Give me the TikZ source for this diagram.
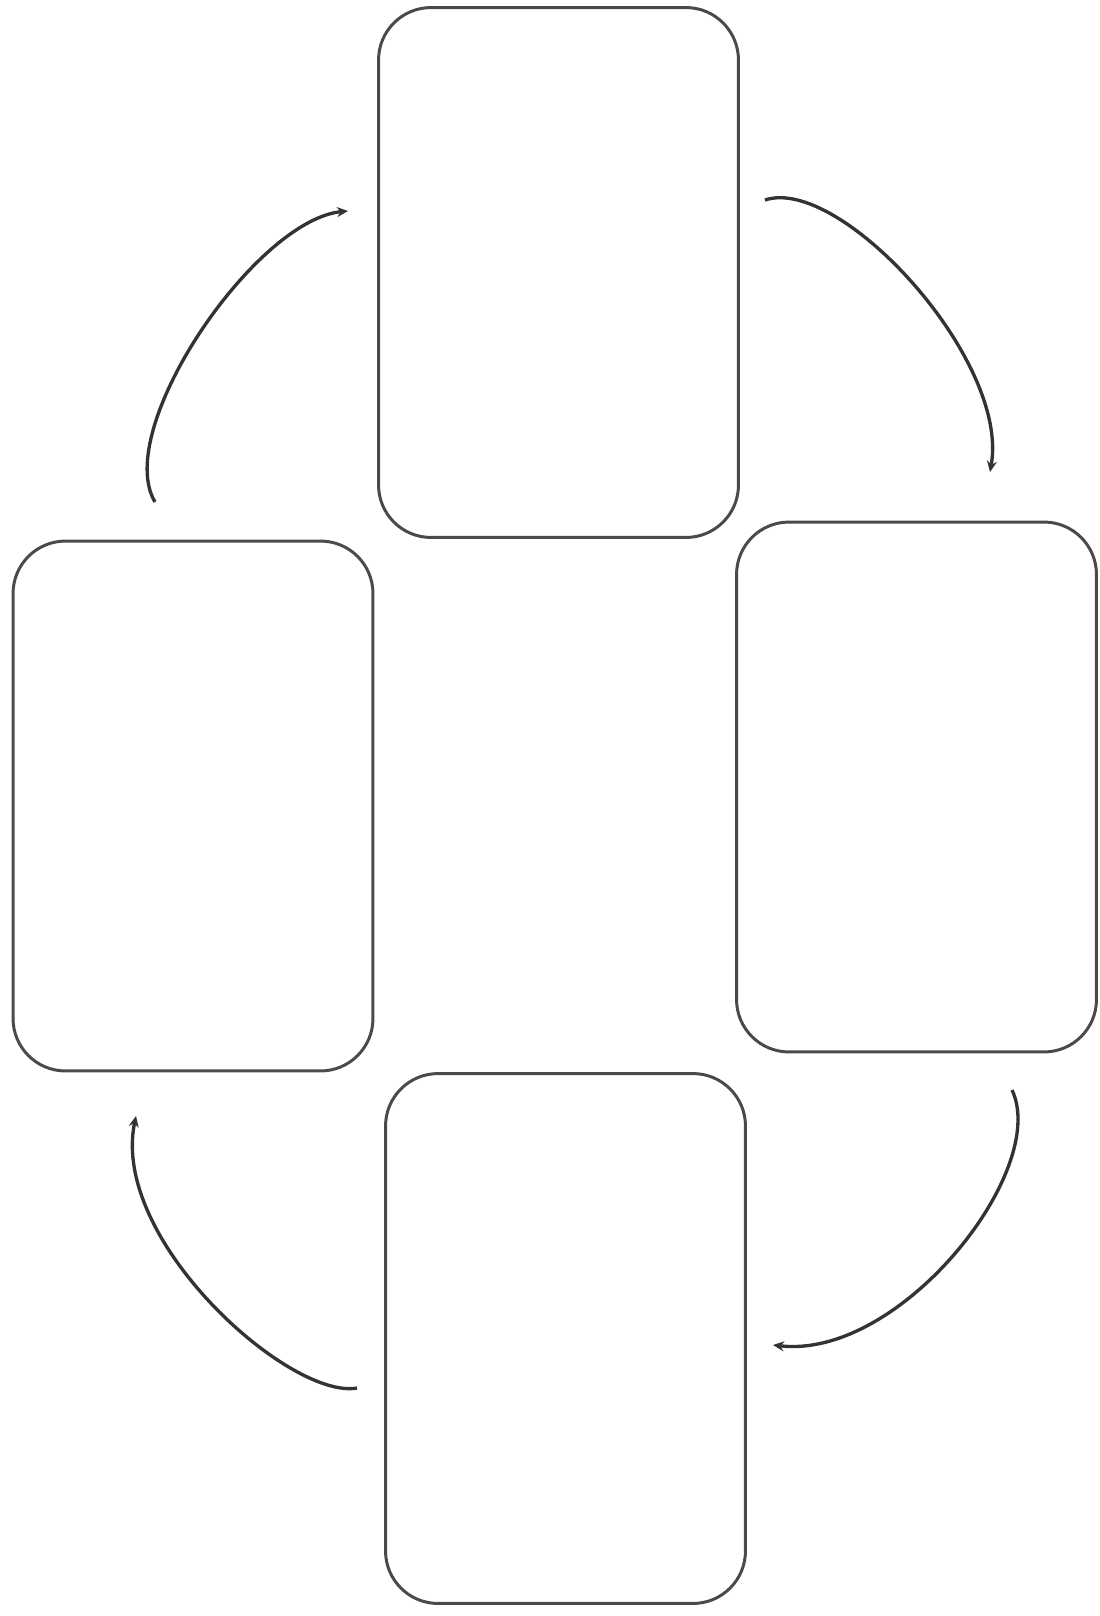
\documentclass[tikz,border=0pt]{standalone}
\usepackage{xcolor}
\usepackage{tikz}
\usetikzlibrary{arrows.meta}
\definecolor{kutuGri}{HTML}{4A4A4A}
\definecolor{okGri}{HTML}{333333}

\begin{document}
\begin{tikzpicture}[x=0.02cm,y=-0.02cm,
  kutu/.style={draw=kutuGri,line width=1.7pt,rounded corners=1.05cm,
               minimum width=7.2cm,minimum height=10.6cm,inner sep=0pt},
  ok/.style={-{Stealth[length=2.2mm,width=2mm]},line width=1.9pt,okGri}]
\useasboundingbox (0,0) rectangle (1099,1616);
\node[kutu] (ust) at (558.5,272.5) {};
\node[kutu] (sol) at (193,806) {};
\node[kutu] (sag) at (916.5,787) {};
\node[kutu] (alt) at (565.5,1338.5) {};
% ok uclari
\coordinate (a1) at (155,502);  \coordinate (b1) at (348,211);
\coordinate (a2) at (765,200);  \coordinate (b2) at (990,472);
\coordinate (a3) at (1012,1090); \coordinate (b3) at (773,1345);
\coordinate (a4) at (357,1388); \coordinate (b4) at (136,1116);
\draw[ok] (a1) .. controls (112,430) and (255,220) .. (b1);
\draw[ok] (a2) .. controls (840,175) and (1010,360) .. (b2);
\draw[ok] (a3) .. controls (1050,1170) and (900,1360) .. (b3);
\draw[ok] (a4) .. controls (290,1400) and (110,1240) .. (b4);
\end{tikzpicture}
\end{document}
